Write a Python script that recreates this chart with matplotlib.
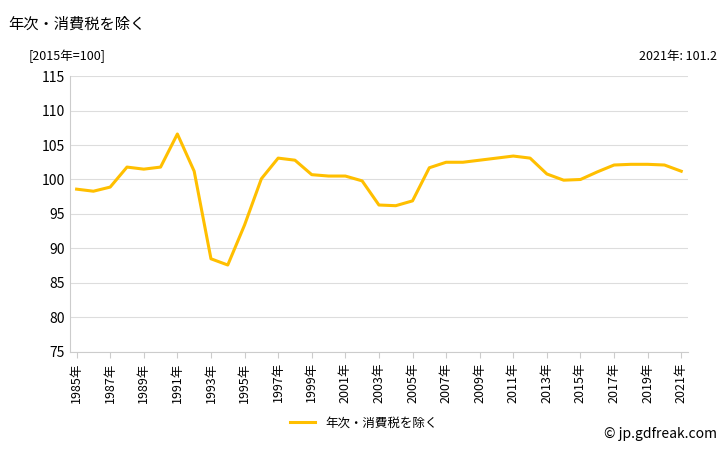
import matplotlib
matplotlib.use("Agg")
import matplotlib.pyplot as plt

plt.rcParams['font.family'] = ['Noto Sans CJK JP', 'DejaVu Sans']

years = list(range(1985, 2022))
values = [98.6, 98.3, 98.9, 101.8, 101.5, 101.8, 106.6, 101.2, 88.5, 87.6,
          93.4, 100.1, 103.1, 102.8, 100.7, 100.5, 100.5, 99.8, 96.3, 96.2,
          96.9, 101.7, 102.5, 102.5, 102.8, 103.1, 103.4, 103.1, 100.8, 99.9,
          100.0, 101.1, 102.1, 102.2, 102.2, 102.1, 101.2]
series_name = '年次・消費税を除く'
tick_years = list(range(1985, 2022, 2))

fig = plt.figure(figsize=(7.28, 4.5), dpi=100)
ax = fig.add_axes([0.096, 0.218, 0.849, 0.613])
ax.plot(years, values, color='#FFBF00', lw=2.2, label=series_name)
ax.set_xlim(1984.6, 2021.4)
ax.set_ylim(75, 115)
ax.set_yticks(range(75, 116, 5))
ax.set_xticks(tick_years)
ax.set_xticklabels([f'{y}年' for y in tick_years], rotation=90, fontsize=9)
ax.tick_params(axis='y', labelsize=10, length=0)
ax.tick_params(axis='x', length=4, color='#cccccc')
ax.grid(axis='y', color='#dddddd', lw=0.8)
for s in ['top', 'right']:
    ax.spines[s].set_visible(False)
ax.spines['left'].set_color('#cccccc')
ax.spines['bottom'].set_color('#cccccc')

fig.text(0.012, 0.965, series_name, fontsize=11, va='top')
fig.text(0.04, 0.875, '[2015年=100]', fontsize=9, va='center')
fig.text(0.985, 0.875, '2021年: 101.2', fontsize=9, va='center', ha='right')
fig.legend(loc='lower center', bbox_to_anchor=(0.5, 0.02), frameon=False, fontsize=9,
           handlelength=2)
fig.text(0.985, 0.02, '© jp.gdfreak.com', fontsize=10, ha='right', va='bottom')
fig.savefig('out.png', dpi=100)
